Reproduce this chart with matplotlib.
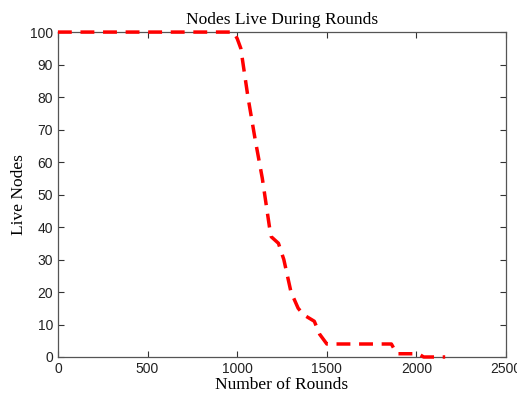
import matplotlib
matplotlib.use("Agg")
import matplotlib.pyplot as plt

rounds = [0, 980, 1000, 1020, 1060, 1100, 1140, 1180, 1190, 1230, 1260, 1300, 1340,
          1370, 1400, 1430, 1460, 1500, 1860, 1890, 2010, 2040, 2160]
live_nodes = [100, 100, 98, 95, 80, 67, 55, 40, 37, 35, 30, 20, 15,
              13, 12, 11, 7, 4, 4, 1, 1, 0, 0]
xticks = [0, 500, 1000, 1500, 2000, 2500]
yticks = list(range(0, 101, 10))

fig = plt.figure(figsize=(5.17, 3.96), dpi=100)
ax = fig.add_axes([0.112, 0.0985, 0.867, 0.8205])
ax.plot(rounds, live_nodes, color="red", linestyle="--", linewidth=2.5,
        dashes=(4, 2.5), clip_on=False, zorder=5)
ax.set_xlim(0, 2500)
ax.set_ylim(0, 100)
ax.set_xticks(xticks)
ax.set_yticks(yticks)
ax.tick_params(direction="in", top=True, right=True, length=4, width=0.8,
               labelsize=10, colors="#333333", labelcolor="#222222")
for lab in ax.get_xticklabels() + ax.get_yticklabels():
    lab.set_family("Liberation Sans")
for s in ax.spines.values():
    s.set_color("#555555")
    s.set_linewidth(0.9)
ax.set_title("Nodes Live During Rounds", family="Liberation Serif", fontsize=12.5, pad=6)
ax.set_xlabel("Number of Rounds", family="Liberation Serif", fontsize=12.5, labelpad=1)
ax.set_ylabel("Live Nodes", family="Liberation Serif", fontsize=12.5, labelpad=2)
fig.savefig("out.png", dpi=100)
